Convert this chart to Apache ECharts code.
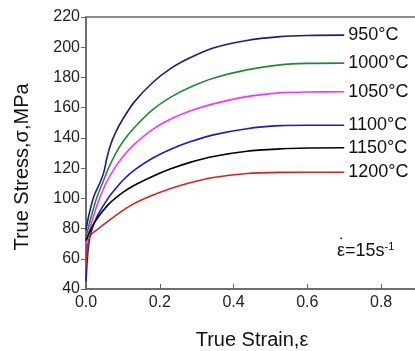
<!DOCTYPE html>
<html>
<head>
<meta charset="utf-8">
<script src="https://cdn.jsdelivr.net/npm/echarts@6/dist/echarts.min.js"></script>
<style>
  html, body { margin: 0; padding: 0; background: #fff; }
  #main { width: 415px; height: 351px; }
</style>
</head>
<body>
<div id="main"></div>
<script>
// 温度标签
var temps = ['950°C', '1000°C', '1050°C', '1100°C', '1150°C', '1200°C'];
var colors = ['#1c1c80', '#1f8a2f', '#ff30ff', '#1818d8', '#000000', '#e01e1e'];

// [应变, 应力] 从图上读取
var s950 = [[0,79],[0.007,88],[0.021,101],[0.039,111],[0.048,117],[0.057,127],[0.066,135],[0.079,143],[0.1,152.5],[0.13,163.5],[0.18,176.5],[0.23,186],[0.282,193],[0.345,199.5],[0.436,204.5],[0.526,207],[0.6,207.8],[0.7,208]];
var s1000 = [[0,74],[0.012,86],[0.03,101],[0.048,112],[0.061,120],[0.079,129],[0.1,137.5],[0.13,146.5],[0.18,158.5],[0.23,167],[0.282,173.5],[0.345,179.5],[0.436,185],[0.526,188.3],[0.6,189.3],[0.7,189.5]];
var s1050 = [[0,70],[0.025,92],[0.052,109],[0.079,120.5],[0.1,127.5],[0.13,135.5],[0.18,145.5],[0.23,152.5],[0.282,157.8],[0.345,162.5],[0.436,167.3],[0.526,169.8],[0.6,170.4],[0.7,170.5]];
var s1100 = [[0,45],[0.005,64],[0.012,76],[0.03,88],[0.061,100.5],[0.079,106],[0.1,112],[0.13,118.5],[0.18,126.5],[0.23,132.5],[0.282,137.4],[0.345,142],[0.436,146.1],[0.526,148.1],[0.6,148.4],[0.7,148.4]];
var s1150 = [[0,72],[0.016,81],[0.034,88],[0.061,96],[0.079,100],[0.1,104],[0.13,108.5],[0.18,114.5],[0.23,119.5],[0.282,123.8],[0.345,127.7],[0.436,131.2],[0.526,132.7],[0.6,133.3],[0.7,133.5]];
var s1200 = [[0,55],[0.004,68],[0.012,75.5],[0.034,80],[0.07,86.7],[0.1,92],[0.13,96.5],[0.18,102],[0.23,106.5],[0.282,110.3],[0.345,113.8],[0.436,116.4],[0.526,117.2],[0.6,117.3],[0.7,117.3]];
var allData = [s950, s1000, s1050, s1100, s1150, s1200];

var font = 'Liberation Sans, Arial, sans-serif';

var chart = echarts.init(document.getElementById('main'));

var series = allData.map(function (d, i) {
  return {
    name: temps[i],
    type: 'line',
    data: d,
    smooth: 0.3,
    showSymbol: false,
    lineStyle: { width: 1.6, color: colors[i] },
    itemStyle: { color: colors[i] },
    endLabel: {
      show: true,
      formatter: '{a}',
      distance: 4,
      color: '#111',
      fontSize: 18,
      fontFamily: font
    }
  };
});

chart.setOption({
  animation: false,
  grid: {
    left: 86,
    width: 332,
    top: 17,
    bottom: 62,
    outerBoundsMode: 'none',
    show: true,
    borderColor: '#666',
    borderWidth: 1.5
  },
  xAxis: {
    type: 'value',
    min: 0,
    max: 0.9,
    interval: 0.2,
    name: 'True Strain,ε',
    nameLocation: 'middle',
    nameGap: 41,
    nameTextStyle: { fontSize: 20, color: '#111', fontFamily: font },
    axisLine: { lineStyle: { color: '#666', width: 1.5 } },
    axisTick: { inside: true, length: 5, lineStyle: { color: '#666' } },
    axisLabel: {
      margin: 6,
      fontSize: 16,
      color: '#222',
      fontFamily: font,
      formatter: function (v) { return v > 0.85 ? '' : v.toFixed(1); }
    },
    splitLine: { show: false }
  },
  yAxis: {
    type: 'value',
    min: 40,
    max: 220,
    interval: 20,
    name: 'True Stress,σ,MPa',
    nameLocation: 'middle',
    nameGap: 54,
    nameTextStyle: { fontSize: 20, color: '#111', fontFamily: font, padding: [0, 28, 0, 0] },
    axisLine: { lineStyle: { color: '#666', width: 1.5 } },
    axisTick: { length: 5, lineStyle: { color: '#666' } },
    axisLabel: { margin: 6, fontSize: 16, color: '#222', fontFamily: font },
    splitLine: { show: false }
  },
  graphic: [{
    type: 'text',
    left: 337,
    top: 241,
    style: {
      text: '{a|ε=15s}{b|-1}',
      rich: {
        a: { fontSize: 18, fontFamily: font, fill: '#111' },
        b: { fontSize: 11, fontFamily: font, fill: '#111', verticalAlign: 'top', padding: [0, 0, 10, 0] }
      }
    }
  }, {
    type: 'text',
    left: 339,
    top: 237,
    style: { text: '˙', fontSize: 18, fontFamily: font, fill: '#111' }
  }],
  series: series
});
</script>
</body>
</html>
